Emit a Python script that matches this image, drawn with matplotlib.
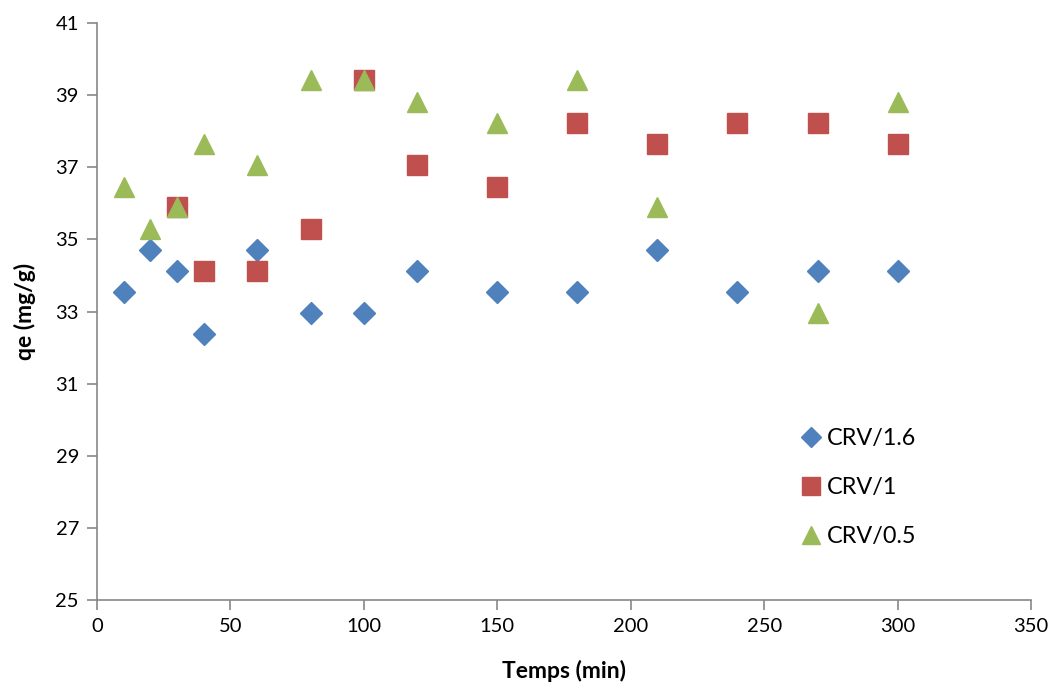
import matplotlib
matplotlib.use("Agg")
import matplotlib.pyplot as plt

plt.rcParams['font.family'] = ['Lato', 'DejaVu Sans']

# Contact time (min) and adsorbed quantity qe (mg/g) for each series
t_16 = [10, 20, 30, 40, 60, 80, 100, 120, 150, 180, 210, 240, 270, 300]
qe_16 = [33.54, 34.71, 34.12, 32.38, 34.71, 32.96, 32.96, 34.12, 33.54, 33.54,
         34.71, 33.54, 34.12, 34.12]

t_1 = [30, 40, 60, 80, 100, 120, 150, 180, 210, 240, 270, 300]
qe_1 = [35.90, 34.12, 34.12, 35.29, 39.42, 37.06, 36.45, 38.23, 37.64, 38.23,
        38.23, 37.64]

t_05 = [10, 20, 30, 40, 60, 80, 100, 120, 150, 180, 210, 270, 300]
qe_05 = [36.45, 35.29, 35.90, 37.64, 37.06, 39.42, 39.42, 38.81, 38.23, 39.42,
         35.90, 32.96, 38.81]

labels = ["CRV/1.6", "CRV/1", "CRV/0.5"]
x_ticks = [0, 50, 100, 150, 200, 250, 300, 350]
y_ticks = [25, 27, 29, 31, 33, 35, 37, 39, 41]

fig = plt.figure(figsize=(10.56, 6.93), dpi=100)
ax = fig.add_axes([0.0919, 0.1342, 0.8844, 0.8326])

ax.plot(t_16, qe_16, linestyle='none', marker='D', markersize=11,
        color='#4F81BD', label=labels[0])
ax.plot(t_1, qe_1, linestyle='none', marker='s', markersize=14,
        color='#C0504D', label=labels[1])
ax.plot(t_05, qe_05, linestyle='none', marker='^', markersize=15,
        color='#9BBB59', label=labels[2])

ax.set_xlim(0, 350)
ax.set_ylim(25, 41)
ax.set_xticks(x_ticks)
ax.set_yticks(y_ticks)

for side in ('top', 'right'):
    ax.spines[side].set_visible(False)
for side in ('left', 'bottom'):
    ax.spines[side].set_color('#878787')
    ax.spines[side].set_linewidth(1.2)
ax.tick_params(axis='both', direction='out', length=7, width=1.2,
               color='#878787', labelsize=14.5, pad=6)

ax.set_xlabel("Temps (min)", fontsize=16.5, fontweight='bold', labelpad=18)
ax.set_ylabel("qe (mg/g)", fontsize=16.5, fontweight='bold', labelpad=14)

ax.legend(loc='upper left', bbox_to_anchor=(0.74, 0.318), frameon=False,
          fontsize=16.8, handletextpad=0.15, labelspacing=1.2, borderpad=0,
          handlelength=1.0, markerscale=0.88)

fig.savefig("out.png", dpi=100)
